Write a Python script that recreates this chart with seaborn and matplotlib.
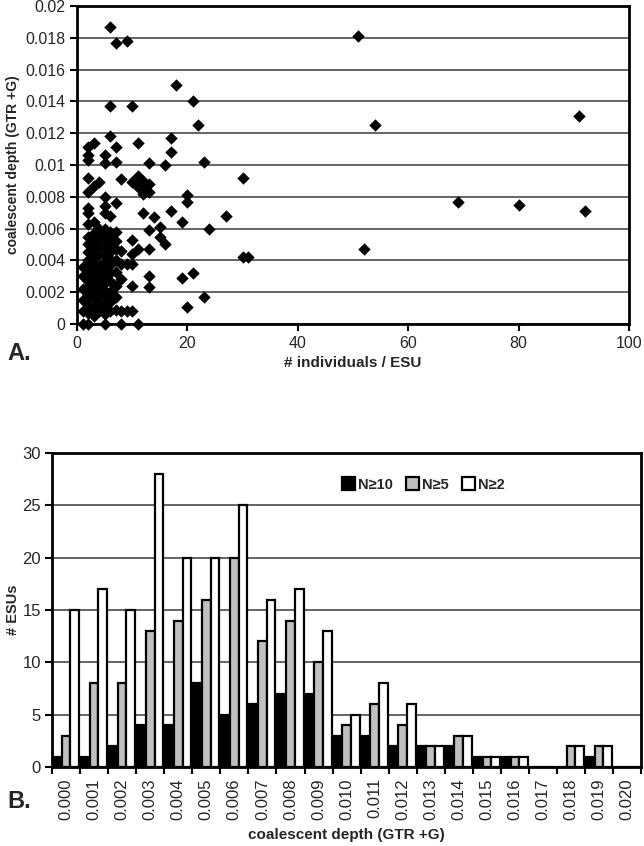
import pandas as pd
import matplotlib.pyplot as plt
import seaborn as sns
import numpy as np

# Panel A: individuals per ESU vs coalescent depth
n_individuals = (
    [1] * 6 + [2] * 20 + [3] * 15 + [4] * 12 + [5] * 19 + [6] * 15 + [7] * 12
    + [8] * 6 + [9] * 3 + [10] * 7 + [11] * 5 + [12] * 4 + [13] * 7 + [14, 15, 15, 16, 16]
    + [17] * 3 + [18] + [19] * 2 + [20] * 3 + [21] * 2 + [22] + [23] * 2 + [24, 27]
    + [30, 30, 31, 51, 52, 54, 69, 80, 92, 91]
)
depth = (
    [0, 0.0008, 0.0015, 0.0022, 0.0030, 0.0036]
    + [0, 0.0007, 0.0012, 0.0018, 0.0023, 0.0027, 0.0032, 0.0035, 0.0040, 0.0045,
       0.0050, 0.0055, 0.0063, 0.0070, 0.0073, 0.0083, 0.0092, 0.0103, 0.0106, 0.0111]
    + [0.0005, 0.0010, 0.0016, 0.0020, 0.0025, 0.0030, 0.0034, 0.0038, 0.0042, 0.0047,
       0.0052, 0.0057, 0.0064, 0.0087, 0.0114]
    + [0.0008, 0.0013, 0.0019, 0.0024, 0.0028, 0.0033, 0.0037, 0.0044, 0.0049, 0.0055,
       0.0060, 0.0089]
    + [0, 0.0006, 0.0011, 0.0017, 0.0021, 0.0026, 0.0031, 0.0035, 0.0039, 0.0043,
       0.0048, 0.0053, 0.0056, 0.0060, 0.0070, 0.0074, 0.0080, 0.0101, 0.0106]
    + [0.0008, 0.0014, 0.0020, 0.0027, 0.0032, 0.0037, 0.0041, 0.0045, 0.0050, 0.0054,
       0.0058, 0.0068, 0.0118, 0.0137, 0.0187]
    + [0.0009, 0.0017, 0.0024, 0.0033, 0.0040, 0.0047, 0.0052, 0.0058, 0.0076, 0.0102,
       0.0111, 0.0177]
    + [0, 0.0008, 0.0028, 0.0038, 0.0046, 0.0091]
    + [0.0008, 0.0038, 0.0178]
    + [0.0008, 0.0024, 0.0038, 0.0044, 0.0053, 0.0089, 0.0137]
    + [0, 0.0047, 0.0086, 0.0093, 0.0114]
    + [0.0070, 0.0082, 0.0086, 0.0090]
    + [0.0023, 0.0030, 0.0047, 0.0059, 0.0083, 0.0088, 0.0101]
    + [0.0067, 0.0055, 0.0061, 0.0050, 0.0100]
    + [0.0071, 0.0108, 0.0117]
    + [0.0150]
    + [0.0029, 0.0064]
    + [0.0011, 0.0077, 0.0081]
    + [0.0032, 0.0140]
    + [0.0125]
    + [0.0017, 0.0102]
    + [0.0060, 0.0068]
    + [0.0042, 0.0092, 0.0042, 0.0181, 0.0047, 0.0125, 0.0077, 0.0075, 0.0071, 0.0131]
)

# Panel B: histogram of coalescent depth
depth_bins = ["0.000", "0.001", "0.002", "0.003", "0.004", "0.005", "0.006",
              "0.007", "0.008", "0.009", "0.010", "0.011", "0.012", "0.013",
              "0.014", "0.015", "0.016", "0.017", "0.018", "0.019", "0.020"]
esus_n10 = [1, 1, 2, 4, 4, 8, 5, 6, 7, 7, 3, 3, 2, 2, 2, 1, 1, 0, 0, 1, 0]
esus_n5 = [3, 8, 8, 13, 14, 16, 20, 12, 14, 10, 4, 6, 4, 2, 3, 1, 1, 0, 2, 2, 0]
esus_n2 = [15, 17, 15, 28, 20, 20, 25, 16, 17, 13, 5, 8, 6, 2, 3, 1, 1, 0, 2, 2, 0]
groups = ["N≥10", "N≥5", "N≥2"]

sns.set_style("white")
plt.rcParams["font.family"] = ["Liberation Sans", "DejaVu Sans"]

fig = plt.figure(figsize=(6.44, 8.46), dpi=100)
ax1 = fig.add_axes([0.1196, 0.617, 0.857, 0.376])
ax2 = fig.add_axes([0.0807, 0.0934, 0.915, 0.371])

grid_color = "#3a3a3a"

# --- Panel A ---
df_a = pd.DataFrame({"n": n_individuals, "depth": depth})
sns.scatterplot(data=df_a, x="n", y="depth", marker="D", color="black", s=40,
                linewidth=0, clip_on=False, zorder=4, ax=ax1)
ax1.set_xlim(0, 100)
ax1.set_ylim(0, 0.02)
ax1.set_xticks(np.arange(0, 101, 20))
yt = np.arange(0, 0.0201, 0.002)
ax1.set_yticks(yt)
ax1.set_yticklabels(["0", "0.002", "0.004", "0.006", "0.008", "0.01",
                     "0.012", "0.014", "0.016", "0.018", "0.02"])
ax1.yaxis.grid(True, color=grid_color, lw=1.1)
ax1.set_axisbelow(True)
ax1.tick_params(direction="out", length=5, width=1.5, labelsize=11.5, color="black",
                left=True, bottom=True)
for s in ax1.spines.values():
    s.set_color("black")
    s.set_linewidth(2)
ax1.set_xlabel("# individuals / ESU", fontsize=11, fontweight="bold", labelpad=4)
ax1.set_ylabel("coalescent depth (GTR +G)", fontsize=10, fontweight="bold")
ax1.yaxis.set_label_coords(-0.104, 0.5)

# --- Panel B ---
df_b = pd.DataFrame({
    "bin": depth_bins * 3,
    "count": esus_n10 + esus_n5 + esus_n2,
    "group": [groups[0]] * 21 + [groups[1]] * 21 + [groups[2]] * 21,
})
sns.barplot(data=df_b, x="bin", y="count", hue="group", hue_order=groups,
            palette=["black", "#c0c0c0", "white"], width=0.93, gap=0,
            edgecolor="black", linewidth=1.6, saturation=1, ax=ax2)
ax2.set_xlim(-0.5, 20.5)
ax2.set_ylim(0, 30)
ax2.set_yticks(np.arange(0, 31, 5))
ax2.yaxis.grid(True, color=grid_color, lw=1.1)
ax2.set_axisbelow(True)
ax2.set_xticks(np.arange(-0.5, 21, 1), minor=True)
ax2.tick_params(axis="x", which="major", length=0, labelsize=12, rotation=90, pad=8)
ax2.tick_params(axis="x", which="minor", direction="out", length=5, width=1.5,
                bottom=True, color="black")
ax2.tick_params(axis="y", direction="out", length=5, width=1.5, labelsize=12,
                left=True, color="black", pad=3)
for s in ax2.spines.values():
    s.set_color("black")
    s.set_linewidth(2)
ax2.set_xlabel("coalescent depth (GTR +G)", fontsize=11, fontweight="bold", labelpad=6)
ax2.set_ylabel("# ESUs", fontsize=10.5, fontweight="bold")
ax2.yaxis.set_label_coords(-0.054, 0.5)
leg = ax2.legend(loc="center", bbox_to_anchor=(0.63, 0.9), ncol=3, frameon=False,
                 handlelength=0.9, handleheight=0.9, handletextpad=0.2,
                 columnspacing=0.9, prop={"weight": "bold", "size": 10.5})

fig.text(0.012, 0.575, "A.", fontsize=17, fontweight="bold")
fig.text(0.012, 0.045, "B.", fontsize=17, fontweight="bold")

fig.savefig("out.png", dpi=100)
